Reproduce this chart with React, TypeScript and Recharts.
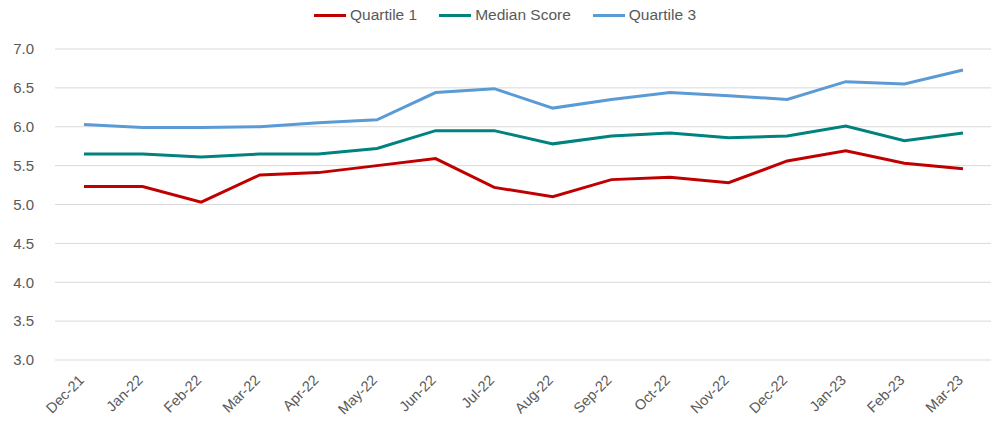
import React from 'react';
import { LineChart, Line, XAxis, YAxis, CartesianGrid } from 'recharts';

const months = ['Dec-21', 'Jan-22', 'Feb-22', 'Mar-22', 'Apr-22', 'May-22', 'Jun-22', 'Jul-22', 'Aug-22', 'Sep-22', 'Oct-22', 'Nov-22', 'Dec-22', 'Jan-23', 'Feb-23', 'Mar-23'];
const quartile1 = [5.23, 5.23, 5.03, 5.38, 5.41, 5.5, 5.59, 5.22, 5.1, 5.32, 5.35, 5.28, 5.56, 5.69, 5.53, 5.46];
const median = [5.65, 5.65, 5.61, 5.65, 5.65, 5.72, 5.95, 5.95, 5.78, 5.88, 5.92, 5.86, 5.88, 6.01, 5.82, 5.92];
const quartile3 = [6.03, 5.99, 5.99, 6.0, 6.05, 6.09, 6.44, 6.49, 6.24, 6.35, 6.44, 6.4, 6.35, 6.58, 6.55, 6.73];
const yTicks = [3.0, 3.5, 4.0, 4.5, 5.0, 5.5, 6.0, 6.5, 7.0];

const series = [
  { key: 'q1', name: 'Quartile 1', color: '#c00000' },
  { key: 'med', name: 'Median Score', color: '#00827f' },
  { key: 'q3', name: 'Quartile 3', color: '#5b9bd5' },
];

const data = months.map((m, i) => ({
  month: m,
  q1: quartile1[i],
  med: median[i],
  q3: quartile3[i],
}));

const FONT = '"Liberation Sans", Arial, sans-serif';

const XTick = (props: any) => {
  const { x, y, payload } = props;
  return (
    <g transform={`translate(${x - 6},${y + 6})`}>
      <text transform="rotate(-45)" textAnchor="end" dy={10} fill="#595959" fontSize={14.5} fontFamily={FONT}>
        {payload.value}
      </text>
    </g>
  );
};

export default function App() {
  return (
    <div style={{ position: 'absolute', left: 0, top: 0, width: 991, height: 423, background: '#fff' }}>
      <div
        style={{
          position: 'absolute',
          top: 6,
          left: 0,
          width: 1010,
          display: 'flex',
          justifyContent: 'center',
          gap: 22,
          fontFamily: FONT,
          fontSize: 15.5,
          color: '#595959',
          lineHeight: '18px',
        }}
      >
        {series.map((s) => (
          <div key={s.key} style={{ display: 'flex', alignItems: 'center' }}>
            <span style={{ display: 'inline-block', width: 32, height: 3, background: s.color, marginRight: 4 }} />
            <span>{s.name}</span>
          </div>
        ))}
      </div>
      <LineChart width={991} height={423} data={data} margin={{ top: 49, right: 0, bottom: 23, left: 0 }}>
        <CartesianGrid vertical={false} stroke="#d9d9d9" strokeWidth={1} />
        <XAxis
          dataKey="month"
          axisLine={false}
          tickLine={false}
          tick={<XTick />}
          interval={0}
          height={40}
          padding={{ left: 29, right: 28 }}
        />
        <YAxis
          width={55}
          domain={[3, 7]}
          ticks={yTicks}
          tickFormatter={(v: number) => v.toFixed(1)}
          axisLine={false}
          tickLine={false}
          tickMargin={15}
          tick={{ fill: '#595959', fontSize: 15, fontFamily: FONT }}
        />
        {series.map((s) => (
          <Line
            key={s.key}
            dataKey={s.key}
            name={s.name}
            stroke={s.color}
            strokeWidth={3}
            dot={false}
            isAnimationActive={false}
          />
        ))}
      </LineChart>
    </div>
  );
}
